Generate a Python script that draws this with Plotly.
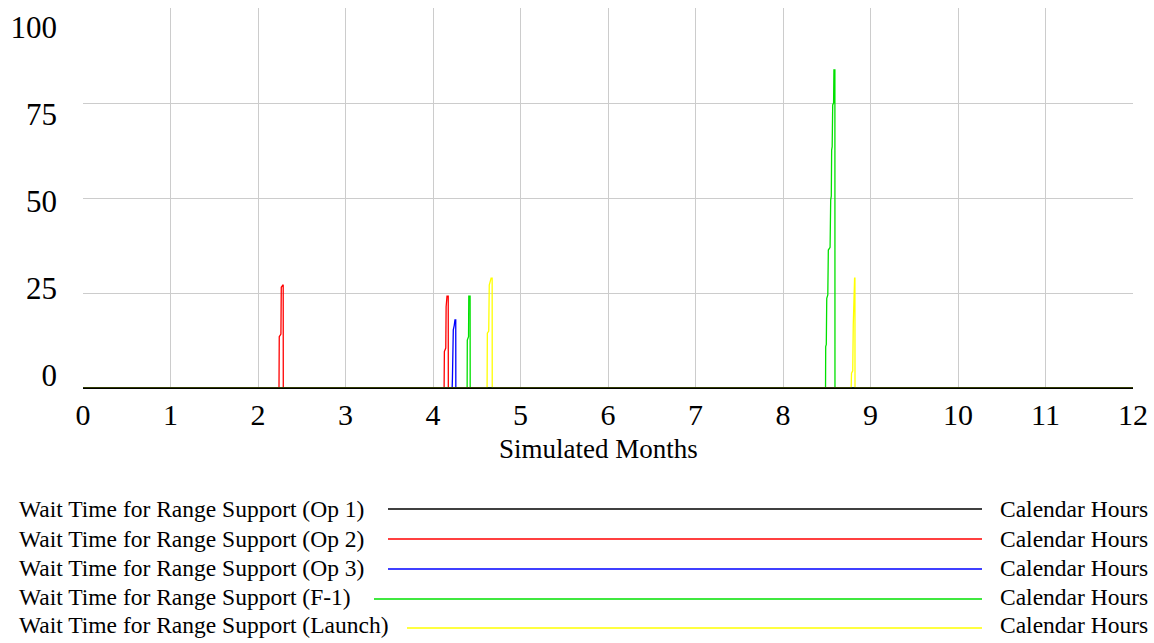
import plotly.graph_objects as go

W, H = 1154, 643

# ---------------- data ----------------
x_ticks = list(range(0, 13))
y_ticks = [0, 25, 50, 75, 100]

series_names = [
    "Wait Time for Range Support (Op 1)",
    "Wait Time for Range Support (Op 2)",
    "Wait Time for Range Support (Op 3)",
    "Wait Time for Range Support (F-1)",
    "Wait Time for Range Support (Launch)",
]
series_units = ["Calendar Hours"] * 5
series_colors = ["#000000", "#ff0000", "#0000ff", "#00e000", "#ffff00"]

# Simulated Months (x) and Calendar Hours (y)
op1_x = [0, 12]
op1_y = [0, 0]

op2_x = [0, 2.240, 2.243, 2.262, 2.266, 2.282, 2.288, 2.289,
         4.127, 4.130, 4.146, 4.150, 4.160, 4.174, 4.175, 12]
op2_y = [0, 0, 13.5, 14.2, 26.5, 27.2, 27.2, 0,
         0, 9.6, 10.5, 21.4, 24.2, 24.2, 0, 0]

op3_x = [0, 4.219, 4.222, 4.232, 4.243, 4.251, 4.260, 4.261, 12]
op3_y = [0, 0, 2.5, 15.3, 16.5, 17.9, 17.9, 0, 0]

f1_x = [0, 4.390, 4.392, 4.406, 4.409, 4.424, 4.425,
        8.486, 8.488, 8.495, 8.500, 8.512, 8.518, 8.538, 8.545, 8.552, 8.556,
        8.562, 8.568, 8.578, 8.582, 8.593, 8.594, 12]
f1_y = [0, 0, 12.6, 13.5, 24.2, 24.2, 0,
        0, 10.9, 11.5, 23.6, 24.5, 36.3, 37.0, 49.5, 50.5, 62.6,
        63.5, 74.5, 75.0, 83.7, 83.7, 0, 0]

launch_x = [0, 4.618, 4.621, 4.637, 4.643, 4.664, 4.676, 4.677,
            8.779, 8.783, 8.797, 8.803, 8.818, 8.822, 8.823, 12]
launch_y = [0, 0, 14.4, 15.0, 27.1, 28.9, 28.9, 0,
            0, 3.9, 4.5, 16.6, 28.9, 28.9, 0, 0]

series_x = [op1_x, op2_x, op3_x, f1_x, launch_x]
series_y = [op1_y, op2_y, op3_y, f1_y, launch_y]

x_title = "Simulated Months"

# ---------------- figure ----------------
FONT = "Liberation Serif"
fig = go.Figure()

# draw coloured series first, black (Op 1) last so the baseline is black
for i in [1, 2, 3, 4, 0]:
    fig.add_trace(go.Scatter(
        x=series_x[i], y=series_y[i], mode="lines",
        line=dict(color=series_colors[i], width=1.5 if i == 0 else 1.3),
        name=series_names[i], showlegend=False, hoverinfo="skip",
    ))

# helper trace for the tick-label axis
fig.add_trace(go.Scatter(x=[], y=[], xaxis="x", yaxis="y2", showlegend=False))

def px_x(p):
    return p / W

def px_y(p):
    return 1 - p / H

plot_l, plot_r, plot_t, plot_b = 83, 1133, 8, 388

fig.update_layout(
    width=W, height=H, autosize=False,
    margin=dict(l=0, r=0, t=0, b=0, pad=0, autoexpand=False),
    paper_bgcolor="white", plot_bgcolor="rgba(0,0,0,0)",
    font=dict(family=FONT, color="black"),
    showlegend=False,
    xaxis=dict(
        domain=[px_x(plot_l), px_x(plot_r)],
        range=[0, 12], tickvals=x_ticks, ticktext=[str(v) for v in x_ticks],
        showgrid=True, gridcolor="#cccccc", gridwidth=1,
        zeroline=False, showline=True, linecolor="black", linewidth=1,
        ticks="", ticklabelstandoff=0, automargin=False,
        tickfont=dict(family=FONT, size=30, color="black"),
        anchor="y",
    ),
    yaxis=dict(
        domain=[px_y(plot_b), px_y(plot_t)],
        range=[0, 100], tickvals=y_ticks,
        showticklabels=False, showgrid=True, gridcolor="#cccccc", gridwidth=1,
        zeroline=False, showline=False, ticks="", automargin=False,
    ),
    yaxis2=dict(
        domain=[px_y(375), px_y(27)],
        range=[0, 100], tickvals=y_ticks, ticktext=[str(v) for v in y_ticks],
        anchor="free", position=px_x(plot_l), side="left",
        showgrid=False, zeroline=False, showline=False, ticks="",
        ticklabelstandoff=26, automargin=False,
        tickfont=dict(family=FONT, size=31, color="black"),
    ),
)

# x-axis title
fig.add_annotation(
    text=x_title, xref="paper", yref="paper",
    x=px_x(598), y=px_y(449), xanchor="center", yanchor="middle",
    showarrow=False, font=dict(family=FONT, size=27, color="black"),
)

# custom legend
row_y = [508.5, 538.5, 567.5, 597, 625]
line_y = [509, 539, 569, 599, 628]
line_start = [388, 388, 388, 374, 407]
line_end = 982
for i in range(5):
    fig.add_annotation(
        text=series_names[i], xref="paper", yref="paper",
        x=px_x(17), y=px_y(row_y[i]), xanchor="left", yanchor="middle",
        showarrow=False, font=dict(family=FONT, size=23.5, color="black"),
    )
    fig.add_annotation(
        text=series_units[i], xref="paper", yref="paper",
        x=px_x(998), y=px_y(row_y[i]), xanchor="left", yanchor="middle",
        showarrow=False, font=dict(family=FONT, size=23.5, color="black"),
    )
    fig.add_shape(
        type="line", xref="paper", yref="paper",
        x0=px_x(line_start[i]), x1=px_x(line_end),
        y0=px_y(line_y[i]), y1=px_y(line_y[i]),
        line=dict(color=series_colors[i], width=1.5),
    )

fig.write_html(
    "out.html",
    config={"displayModeBar": False},
    post_script="document.body.style.margin='0px';document.body.style.overflow='hidden';",
)
